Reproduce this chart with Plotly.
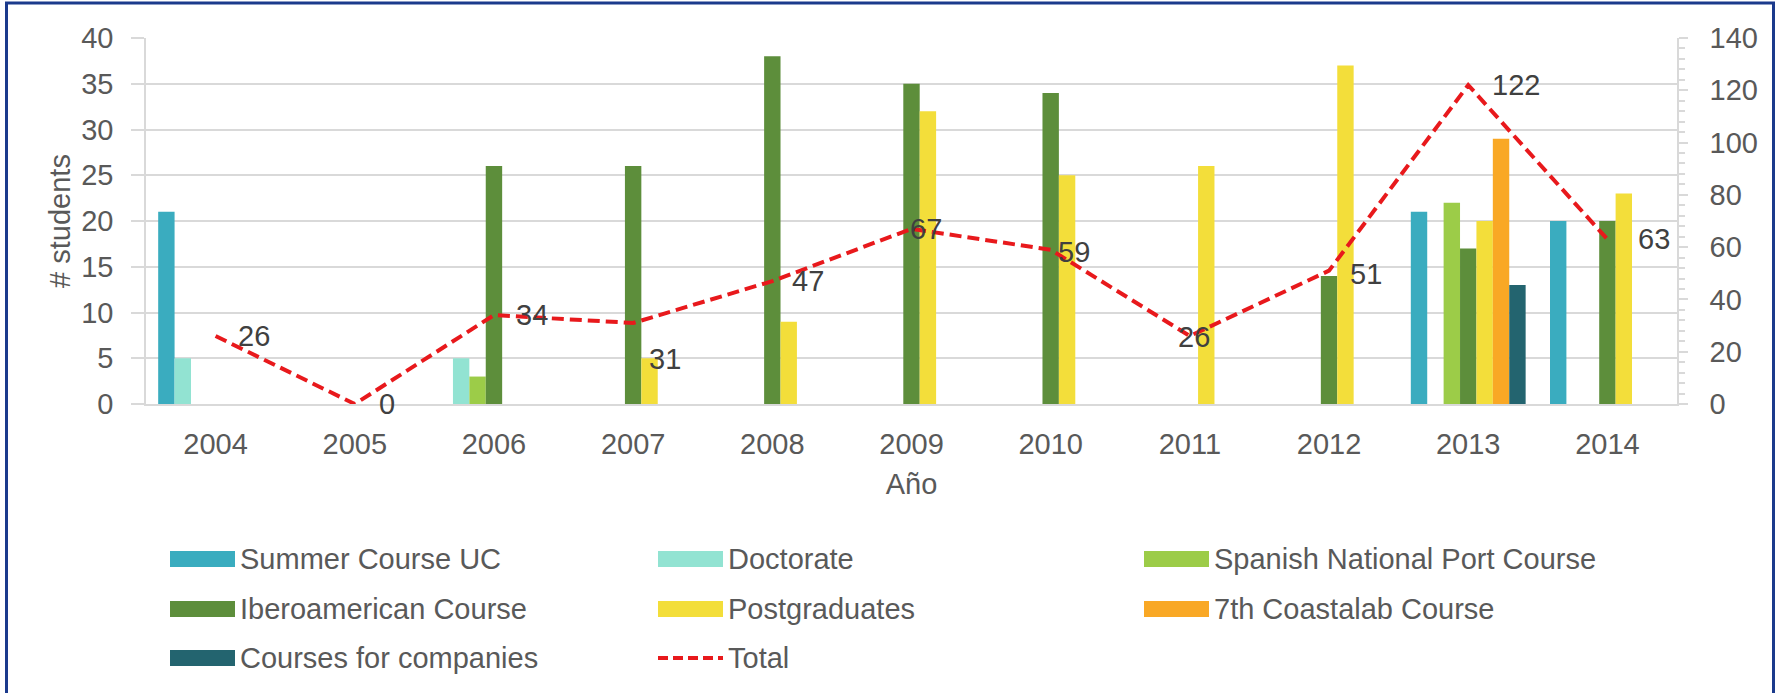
import plotly.graph_objects as go

# ---- data ----
years = ["2004", "2005", "2006", "2007", "2008", "2009", "2010", "2011", "2012", "2013", "2014"]

summer_course_uc = [21, None, None, None, None, None, None, None, None, 21, 20]
doctorate = [5, None, 5, None, None, None, None, None, None, None, None]
spanish_port = [None, None, 3, None, None, None, None, None, None, 22, None]
iberoamerican = [None, None, 26, 26, 38, 35, 34, None, 14, 17, 20]
postgraduates = [None, None, None, 5, 9, 32, 25, 26, 37, 20, 23]
coastalab = [None, None, None, None, None, None, None, None, None, 29, None]
companies = [None, None, None, None, None, None, None, None, None, 13, None]
total = [26, 0, 34, 31, 47, 67, 59, 26, 51, 122, 63]

series_names = ["Summer Course UC", "Doctorate", "Spanish National Port Course",
                "Iberoamerican Course", "Postgraduates", "7th Coastalab Course",
                "Courses for companies"]
series_values = [summer_course_uc, doctorate, spanish_port, iberoamerican,
                 postgraduates, coastalab, companies]
series_colors = ["#3aacbf", "#92e3d2", "#9ccc48", "#5d8e3b", "#f3de3a", "#f9a825", "#23646f"]
total_name = "Total"
total_color = "#e8191c"

FONT = "Liberation Sans, Arial, sans-serif"
FS = 29
TXT = "#595959"
GRID = "#d9d9d9"

# plot area in pixels
L, T, W, H = 146, 38, 1531, 366


def px_x(px):
    return (px - L) / W


def px_y(py):
    return (T + H - py) / H


fig = go.Figure()

for name, vals, col in zip(series_names, series_values, series_colors):
    fig.add_trace(go.Bar(x=years, y=vals, name=name, marker_color=col,
                         marker_line_width=0, showlegend=False))

fig.add_trace(go.Scatter(x=years, y=total, name=total_name, yaxis="y2", mode="lines",
                         line=dict(color=total_color, width=4, dash="12px,6px"),
                         showlegend=False))

# data labels for the total line (x given as category index)
label_dx = [20, 22, 20, 14, 18, -4, 5, -14, 19, 22, 29]
label_dy = [0, 0, 0, -36, 0, 0, -2, -1, -3, 0, 0]
annotations = []
for i, (v, dx, dy) in enumerate(zip(total, label_dx, label_dy)):
    annotations.append(dict(x=i, y=v, xref="x", yref="y2", text=str(v), showarrow=False,
                            xanchor="left", yanchor="middle", xshift=dx, yshift=dy,
                            font=dict(family=FONT, size=FS, color="#404040")))

# hand-drawn legend, three columns
shapes = []
col_x = [170, 658, 1144]
row_y = [559, 609, 658]
entries = list(zip(series_names, series_colors)) + [(total_name, total_color)]
for i, (name, col) in enumerate(entries):
    cx = col_x[i % 3]
    cy = row_y[i // 3]
    if name == total_name:
        shapes.append(dict(type="line", xref="paper", yref="paper",
                           x0=px_x(cx), x1=px_x(cx + 65), y0=px_y(cy), y1=px_y(cy),
                           line=dict(color=col, width=4, dash="10px,5px")))
    else:
        shapes.append(dict(type="rect", xref="paper", yref="paper",
                           x0=px_x(cx), x1=px_x(cx + 65), y0=px_y(cy + 8), y1=px_y(cy - 8),
                           fillcolor=col, line_width=0))
    annotations.append(dict(x=px_x(cx + 68), y=px_y(cy), xref="paper", yref="paper",
                            text=name, showarrow=False, xanchor="left", yanchor="middle",
                            font=dict(family=FONT, size=FS, color=TXT)))

# navy frame round the whole picture
shapes.append(dict(type="rect", xref="paper", yref="paper",
                   x0=px_x(6.5), x1=px_x(1773.5), y0=px_y(720), y1=px_y(3),
                   line=dict(color="#1b3a8c", width=3), fillcolor="rgba(0,0,0,0)"))

fig.update_layout(
    width=1779, height=693,
    margin=dict(l=L, r=1779 - L - W, t=T, b=693 - T - H),
    paper_bgcolor="white", plot_bgcolor="white",
    barmode="group", bargap=0.175, bargroupgap=0,
    font=dict(family=FONT, size=FS, color=TXT),
    xaxis=dict(type="category", range=[-0.5, len(years) - 0.5], showline=True,
               linecolor=GRID, linewidth=1.5, showgrid=False, ticks="",
               ticklabelstandoff=13, tickfont=dict(size=FS, color=TXT),
               title=dict(text="Año", standoff=15, font=dict(size=FS, color=TXT))),
    yaxis=dict(range=[0, 40], dtick=5, showgrid=True, gridcolor=GRID, gridwidth=1.5,
               showline=True, linecolor=GRID, linewidth=1.5, zeroline=False,
               ticks="outside", ticklen=13, tickcolor=GRID, tickwidth=1.5,
               ticklabelstandoff=12, tickfont=dict(size=FS, color=TXT),
               title=dict(text="# students", standoff=2, font=dict(size=FS, color=TXT))),
    yaxis2=dict(range=[0, 140], dtick=20, overlaying="y", side="right", showgrid=False,
                showline=True, linecolor=GRID, linewidth=1.5, zeroline=False,
                ticks="outside", ticklen=9, tickcolor=GRID, tickwidth=1.5,
                minor=dict(dtick=4, ticks="outside", ticklen=6, tickcolor=GRID),
                ticklabelstandoff=16, tickfont=dict(size=FS, color=TXT)),
    shapes=shapes,
    annotations=annotations,
)

fig.write_html("out.html", config={"displayModeBar": False},
               post_script="document.body.style.margin='0';")
